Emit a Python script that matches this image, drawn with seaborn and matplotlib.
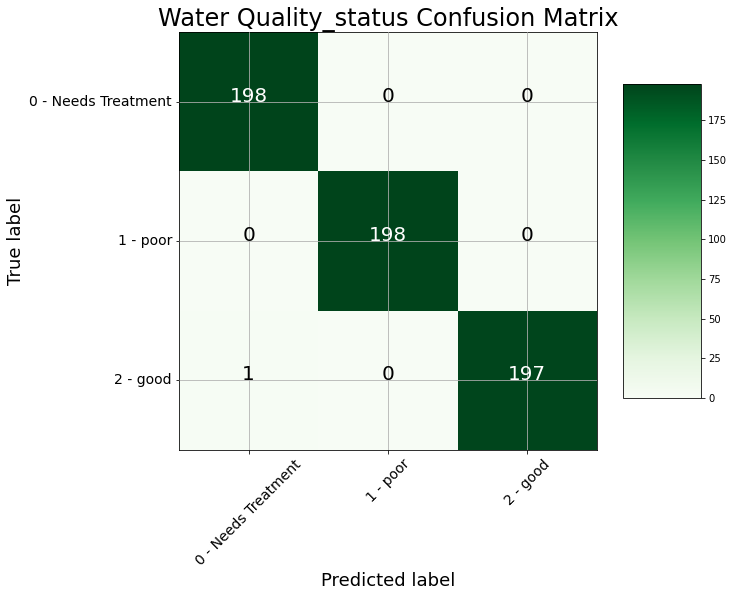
import numpy as np
import pandas as pd
import matplotlib
matplotlib.use("Agg")
import matplotlib.pyplot as plt
import seaborn as sns

class_labels = ["0 - Needs Treatment", "1 - poor", "2 - good"]
row_needs = [198, 0, 0]
row_poor = [0, 198, 0]
row_good = [1, 0, 197]
cbar_ticks = [0, 25, 50, 75, 100, 125, 150, 175]

cm = np.array([row_needs, row_poor, row_good])
df = pd.DataFrame(cm, index=class_labels, columns=class_labels)

sns.set_style("white")
plt.rcParams["font.family"] = ["DejaVu Sans"]
plt.rcParams.update({"text.color": "black", "axes.labelcolor": "black",
                     "xtick.color": "black", "ytick.color": "black",
                     "axes.axisbelow": False})

W, H, DPI = 734, 597, 72
fig = plt.figure(figsize=(W / DPI, H / DPI), dpi=DPI)
ax = fig.add_axes([179 / W, 1 - 450 / H, 418 / W, 418 / H])
cax = fig.add_axes([623 / W, 1 - 398 / H, 78 / W, 314 / H])

sns.heatmap(df, ax=ax, cbar_ax=cax, cmap="Greens", vmin=0, vmax=cm.max(),
            annot=False, square=False, linewidths=0)

ax.set_xticks(np.arange(len(class_labels)) + 0.5)
ax.set_yticks(np.arange(len(class_labels)) + 0.5)
ax.set_xticklabels(class_labels, rotation=45, ha="center", fontsize=14)
ax.set_yticklabels(class_labels, rotation=0, fontsize=14)
ax.set_axisbelow(False)
ax.grid(True, color="#b0b0b0", linewidth=0.8, zorder=3)
ax.tick_params(axis="both", which="major", length=3.5, width=0.8, color="black",
               labelcolor="black", bottom=True, left=True, direction="out")
for s in ax.spines.values():
    s.set_visible(True)
    s.set_color("black")
    s.set_linewidth(0.8)

thresh = cm.max() / 2.0
for i in range(cm.shape[0]):
    for j in range(cm.shape[1]):
        ax.text(j + 0.5, i + 0.5, str(cm[i, j]), ha="center", va="baseline",
                fontsize=20, zorder=4,
                color="white" if cm[i, j] > thresh else "black")

ax.set_title("Water Quality_status Confusion Matrix", fontsize=24, color="black")
ax.set_xlabel("Predicted label", fontsize=18, color="black")
ax.set_ylabel("True label", fontsize=18, color="black")

cb = ax.collections[0].colorbar
cb.set_ticks(cbar_ticks)
cb.outline.set_visible(True)
cb.outline.set_linewidth(0.8)
cb.outline.set_edgecolor("black")
cax.tick_params(labelsize=10, length=3.5, width=0.8, color="black",
                labelcolor="black", right=True)

fig.savefig("out.png", dpi=DPI)
